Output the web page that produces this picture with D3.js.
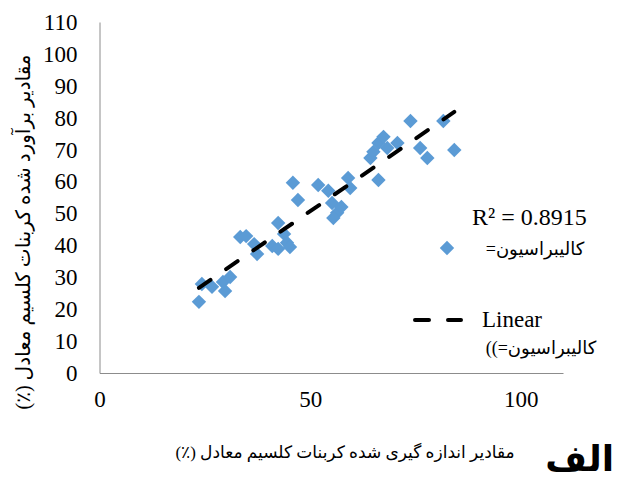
<!DOCTYPE html>
<html>
<head>
<meta charset="utf-8">
<script src="https://cdn.jsdelivr.net/npm/d3@7/dist/d3.min.js"></script>
<style>
  body { margin: 0; background: #fff; }
  svg { display: block; }
</style>
</head>
<body>
<script>
'use strict';

const measured = [23.6, 24.3, 26.7, 29.3, 31.0, 29.8, 33.4, 34.8, 36.7, 37.4,
  41.0, 42.4, 42.4, 43.8, 44.5, 45.2, 45.9, 47.1, 51.9, 54.3,
  55.2, 56.4, 55.5, 57.4, 59.0, 59.5, 64.3, 65.0, 66.2, 67.4,
  70.7, 66.2, 73.8, 76.1, 77.8, 81.6, 84.2, 68.3];
const estimated = [22.3, 27.9, 27.0, 28.5, 30.1, 25.7, 42.6, 42.9, 40.4, 37.3,
  39.8, 47.0, 38.9, 43.6, 40.8, 39.5, 59.6, 54.2, 58.9, 57.1,
  53.3, 50.2, 48.6, 52.0, 61.1, 58.0, 67.4, 69.3, 72.1, 74.0,
  72.1, 60.5, 79.0, 70.5, 67.4, 79.0, 69.9, 70.5];

const yTicks = [0, 10, 20, 30, 40, 50, 60, 70, 80, 90, 100, 110];
const xTicks = [0, 50, 100];

// trend line
const trendSlope = 0.91;
const trendIntercept = 5.2;
const r2Label = 'R² = 0.8915';

const seriesLabel = 'کالیبراسیون=';
const trendLabel1 = 'Linear';
const trendLabel2 = 'کالیبراسیون=))';
const xTitle = 'مقادیر اندازه گیری شده کربنات کلسیم معادل (٪)';
const yTitle = 'مقادیر برآورد شده کربنات کلسیم معادل (٪)';
const panelLabel = 'الف';

const blue = '#5b9bd5';
const serif = '"Liberation Serif", "DejaVu Sans", serif';

const svg = d3.select('body')
  .append('svg')
  .attr('width', 618)
  .attr('height', 479);

const x = d3.scaleLinear().domain([0, 110]).range([99.5, 563]);
const y = d3.scaleLinear().domain([0, 110]).range([373, 22]);

// axes
const yAxis = svg.append('g')
  .attr('transform', 'translate(' + x(0) + ',0)')
  .call(d3.axisLeft(y).tickValues(yTicks).tickSize(0).tickPadding(22).tickFormat(d3.format('d')));

const xAxis = svg.append('g')
  .attr('transform', 'translate(0,' + y(0) + ')')
  .call(d3.axisBottom(x).tickValues(xTicks).tickSize(0).tickPadding(18).tickFormat(d3.format('d')));

[xAxis, yAxis].forEach((g) => {
  g.select('.domain').attr('stroke', '#8c8c8c').attr('stroke-width', 1);
  g.selectAll('text')
    .attr('fill', '#000')
    .style('font-family', serif)
    .style('font-size', '23px');
});

// points
const diamond = d3.symbol().type(d3.symbolSquare).size(104);
const pts = measured.map((m, i) => ({ m: m, e: estimated[i] }));

svg.append('g')
  .selectAll('path')
  .data(pts)
  .enter()
  .append('path')
    .attr('d', diamond)
    .attr('transform', (d) => 'translate(' + x(d.m) + ',' + y(d.e) + ') rotate(45)')
    .attr('fill', blue);

// trend line
const x0 = d3.min(measured);
const x1 = d3.max(measured);
const line = d3.line()
  .x((d) => x(d))
  .y((d) => y(trendSlope * d + trendIntercept));

svg.append('path')
  .datum([x0, x1])
  .attr('d', line)
  .attr('fill', 'none')
  .attr('stroke', '#000')
  .attr('stroke-width', 4)
  .attr('stroke-linecap', 'round')
  .attr('stroke-dasharray', '14,19');

// legend
svg.append('text')
  .attr('x', 472)
  .attr('y', 225)
  .style('font-family', serif)
  .style('font-size', '24px')
  .text(r2Label);

svg.append('path')
  .attr('d', diamond)
  .attr('transform', 'translate(447,248) rotate(45)')
  .attr('fill', blue);

svg.append('text')
  .attr('x', 535)
  .attr('y', 255)
  .attr('text-anchor', 'middle')
  .attr('direction', 'rtl')
  .style('font-family', serif)
  .style('font-size', '18px')
  .text(seriesLabel);

svg.append('line')
  .attr('x1', 415).attr('x2', 461)
  .attr('y1', 320).attr('y2', 320)
  .attr('stroke', '#000')
  .attr('stroke-width', 4)
  .attr('stroke-linecap', 'round')
  .attr('stroke-dasharray', '14,19');

svg.append('text')
  .attr('x', 482)
  .attr('y', 327)
  .style('font-family', serif)
  .style('font-size', '23px')
  .text(trendLabel1);

svg.append('text')
  .attr('x', 541)
  .attr('y', 354)
  .attr('text-anchor', 'middle')
  .attr('direction', 'rtl')
  .style('font-family', serif)
  .style('font-size', '18px')
  .text(trendLabel2);

// titles
svg.append('text')
  .attr('x', 345)
  .attr('y', 458)
  .attr('text-anchor', 'middle')
  .attr('direction', 'rtl')
  .style('font-family', serif)
  .style('font-size', '17px')
  .text(xTitle);

svg.append('text')
  .attr('transform', 'translate(30,232) rotate(-90)')
  .attr('text-anchor', 'middle')
  .attr('direction', 'rtl')
  .style('font-family', serif)
  .style('font-size', '20px')
  .text(yTitle);

svg.append('text')
  .attr('x', 614)
  .attr('y', 471)
  .attr('text-anchor', 'end')
  .style('font-family', serif)
  .style('font-size', '36px')
  .style('font-weight', 'bold')
  .text(panelLabel);
</script>
</body>
</html>
